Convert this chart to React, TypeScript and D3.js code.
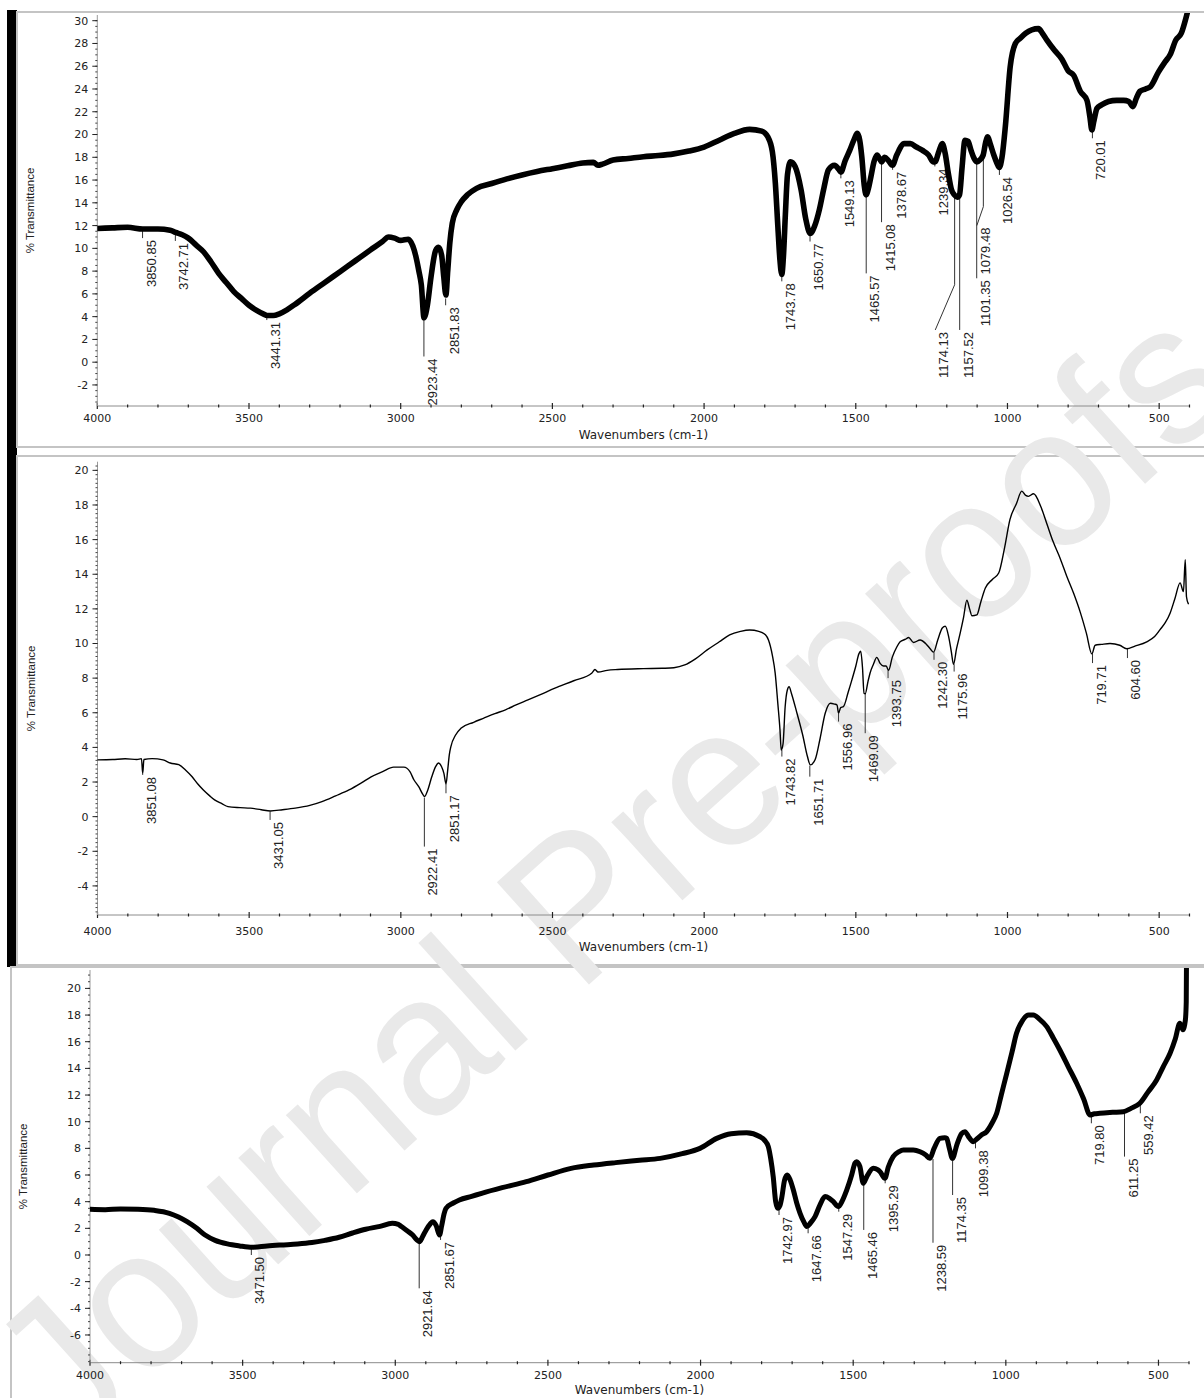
import { useEffect, useRef } from 'react';
import * as d3 from 'd3';

type Pt = [number, number];
type Peak = { text: string; wn: number; top: number; bottom: number; knee?: number; labelWn?: number };

// x axis labels (cm-1)
const xMajorTicks = [4000, 3500, 3000, 2500, 2000, 1500, 1000, 500];

const yTicksA = [-2, 0, 2, 4, 6, 8, 10, 12, 14, 16, 18, 20, 22, 24, 26, 28, 30];
const yTicksB = [-4, -2, 0, 2, 4, 6, 8, 10, 12, 14, 16, 18, 20];
const yTicksC = [-6, -4, -2, 0, 2, 4, 6, 8, 10, 12, 14, 16, 18, 20];

// spectrum 1 [wavenumber, %T]
const spectrumA: Pt[] = [
  [4000, 11.75], [3950, 11.8], [3900, 11.85], [3850, 11.7], [3800, 11.7], [3760, 11.6], [3742, 11.4],
  [3720, 11.2], [3700, 10.9], [3675, 10.3], [3650, 9.7], [3625, 8.8], [3600, 7.8], [3575, 7.0],
  [3550, 6.2], [3525, 5.6], [3500, 5.0], [3475, 4.55], [3450, 4.2], [3441, 4.1], [3420, 4.1],
  [3400, 4.25], [3375, 4.6], [3350, 5.05], [3300, 6.05], [3250, 7.0], [3200, 7.95], [3150, 8.9],
  [3100, 9.85], [3060, 10.6], [3040, 11.0], [3020, 10.9], [3000, 10.7], [2975, 10.8], [2960, 10.2],
  [2950, 9.3], [2940, 8.0], [2932, 6.8], [2923, 3.9], [2912, 5.0], [2900, 7.5], [2885, 9.8],
  [2875, 10.1], [2865, 9.4], [2858, 7.5], [2851, 5.9], [2845, 8.0], [2838, 10.5], [2830, 12.2],
  [2815, 13.4], [2800, 14.1], [2780, 14.7], [2750, 15.27], [2700, 15.7], [2650, 16.1], [2600, 16.45],
  [2550, 16.75], [2500, 17.0], [2450, 17.25], [2400, 17.5], [2365, 17.55], [2350, 17.3], [2335, 17.4],
  [2300, 17.76], [2250, 17.9], [2200, 18.05], [2150, 18.15], [2100, 18.3], [2050, 18.55], [2000, 18.9],
  [1950, 19.5], [1900, 20.1], [1850, 20.45], [1810, 20.3], [1790, 19.8], [1775, 18.5], [1765, 15.7],
  [1757, 12.0], [1750, 9.0], [1744, 7.7], [1738, 9.5], [1732, 13.0], [1725, 16.5], [1715, 17.6],
  [1700, 17.2], [1680, 15.1], [1665, 12.6], [1650, 11.3], [1635, 12.0], [1620, 13.4], [1605, 15.3],
  [1590, 16.9], [1570, 17.3], [1555, 16.9], [1549, 16.7], [1535, 17.7], [1520, 18.6], [1505, 19.6],
  [1495, 20.1], [1487, 19.5], [1480, 18.0], [1472, 15.5], [1466, 14.7], [1458, 15.3], [1450, 16.3],
  [1440, 17.6], [1430, 18.2], [1420, 17.8], [1415, 17.6], [1405, 18.0], [1392, 17.7], [1379, 17.3],
  [1365, 18.2], [1340, 19.2], [1320, 19.2], [1300, 18.9], [1280, 18.6], [1260, 18.2], [1245, 17.6],
  [1239, 17.6], [1225, 18.6], [1215, 19.2], [1205, 18.3], [1195, 16.6], [1185, 15.2], [1175, 14.7],
  [1165, 14.5], [1158, 14.7], [1150, 17.0], [1140, 19.5], [1130, 19.4], [1120, 18.6], [1110, 17.9],
  [1101, 17.6], [1090, 17.8], [1080, 18.2], [1072, 19.3], [1065, 19.8], [1057, 19.2], [1045, 18.2],
  [1035, 17.5], [1027, 17.1], [1018, 18.0], [1007, 20.7], [991, 25.95], [974, 28.0], [958, 28.45],
  [940, 28.9], [920, 29.2], [898, 29.3], [885, 28.9], [870, 28.3], [845, 27.4], [820, 26.6],
  [800, 25.6], [782, 25.2], [760, 23.8], [738, 23.0], [728, 21.5], [722, 20.4], [715, 21.2],
  [705, 22.3], [690, 22.6], [667, 22.9], [640, 23.0], [617, 23.0], [600, 22.9], [587, 22.45],
  [575, 23.2], [563, 23.8], [545, 24.0], [529, 24.2], [502, 25.5], [480, 26.4], [464, 27.0],
  [445, 28.3], [427, 28.9], [411, 30.3], [400, 31.5],
];

const peaksA: Peak[] = [
  { text: '3850.85', wn: 3850.85, top: 11.6, bottom: 10.9 },
  { text: '3742.71', wn: 3742.71, top: 11.3, bottom: 10.65 },
  { text: '3441.31', wn: 3441.31, top: 3.95, bottom: 3.7 },
  { text: '2923.44', wn: 2923.44, top: 3.9, bottom: 0.5 },
  { text: '2851.83', wn: 2851.83, top: 5.6, bottom: 5.0 },
  { text: '1743.78', wn: 1743.78, top: 7.6, bottom: 7.1 },
  { text: '1650.77', wn: 1650.77, top: 11.1, bottom: 10.6 },
  { text: '1549.13', wn: 1549.13, top: 16.6, bottom: 16.15 },
  { text: '1465.57', wn: 1465.57, top: 14.5, bottom: 7.8 },
  { text: '1415.08', wn: 1415.08, top: 17.5, bottom: 12.3 },
  { text: '1378.67', wn: 1378.67, top: 17.2, bottom: 16.9 },
  { text: '1239.34', wn: 1239.34, top: 17.5, bottom: 17.2 },
  { text: '1174.13', wn: 1174.13, top: 14.6, knee: 6.8, labelWn: 1238, bottom: 2.83 },
  { text: '1157.52', wn: 1157.52, top: 14.5, bottom: 2.83 },
  { text: '1101.35', wn: 1101.35, top: 17.5, bottom: 7.37 },
  { text: '1079.48', wn: 1079.48, top: 18.0, knee: 13.66, labelWn: 1101, bottom: 12.0 },
  { text: '1026.54', wn: 1026.54, top: 16.9, bottom: 16.45 },
  { text: '720.01', wn: 720.01, top: 20.3, bottom: 19.67 },
];

// spectrum 2
const spectrumB: Pt[] = [
  [4000, 3.28], [3950, 3.3], [3909, 3.34], [3870, 3.3], [3855, 3.35], [3851, 2.5], [3847, 3.3],
  [3820, 3.35], [3784, 3.28], [3760, 3.1], [3732, 3.0], [3710, 2.7], [3688, 2.3], [3670, 1.9],
  [3651, 1.54], [3630, 1.2], [3614, 0.97], [3590, 0.75], [3570, 0.58], [3530, 0.52], [3496, 0.49],
  [3460, 0.4], [3430, 0.33], [3390, 0.4], [3348, 0.49], [3300, 0.65], [3260, 0.87], [3215, 1.2],
  [3171, 1.54], [3130, 1.95], [3098, 2.3], [3060, 2.6], [3024, 2.86], [2990, 2.86], [2970, 2.6],
  [2957, 2.13], [2940, 1.7], [2928, 1.3], [2922, 1.16], [2912, 1.5], [2898, 2.3], [2885, 2.9],
  [2876, 3.1], [2866, 2.9], [2858, 2.5], [2851, 1.9], [2846, 2.6], [2840, 3.6], [2835, 4.05],
  [2820, 4.7], [2802, 5.1], [2760, 5.45], [2728, 5.68], [2690, 5.95], [2655, 6.17], [2620, 6.45],
  [2581, 6.74], [2540, 7.05], [2492, 7.42], [2430, 7.85], [2370, 8.3], [2360, 8.5], [2350, 8.35],
  [2320, 8.45], [2285, 8.5], [2200, 8.55], [2138, 8.57], [2100, 8.6], [2064, 8.76], [2030, 9.1],
  [1990, 9.63], [1950, 10.1], [1916, 10.5], [1880, 10.7], [1850, 10.78], [1820, 10.7], [1798, 10.5],
  [1788, 10.2], [1775, 9.3], [1766, 8.3], [1757, 6.5], [1750, 5.0], [1746, 3.85], [1740, 4.2],
  [1733, 6.35], [1726, 7.3], [1720, 7.5], [1712, 7.1], [1694, 5.97], [1675, 4.7], [1660, 3.5],
  [1650, 2.99], [1634, 3.3], [1618, 4.5], [1601, 5.97], [1584, 6.55], [1570, 6.5], [1562, 6.45],
  [1557, 5.97], [1550, 6.3], [1541, 6.35], [1525, 7.2], [1513, 7.9], [1500, 8.7], [1490, 9.4],
  [1484, 9.55], [1478, 8.6], [1473, 7.12], [1469, 7.1], [1460, 7.8], [1453, 8.3], [1442, 8.8],
  [1431, 9.2], [1420, 8.85], [1409, 8.7], [1400, 8.7], [1392, 8.45], [1380, 9.2], [1365, 9.8],
  [1354, 10.1], [1336, 10.25], [1326, 10.35], [1310, 10.06], [1288, 10.2], [1270, 10.0], [1255, 9.7],
  [1244, 9.5], [1230, 10.2], [1215, 10.9], [1205, 11.0], [1194, 10.4], [1185, 9.5], [1178, 8.8],
  [1168, 9.7], [1156, 10.6], [1145, 11.5], [1134, 12.5], [1125, 12.0], [1117, 11.6], [1101, 11.65],
  [1088, 12.4], [1073, 13.2], [1050, 13.7], [1029, 14.07], [1010, 15.5], [992, 17.15], [970, 18.1],
  [953, 18.8], [940, 18.55], [931, 18.5], [914, 18.65], [890, 17.9], [870, 16.9], [850, 15.9],
  [826, 14.9], [805, 13.9], [782, 12.9], [760, 11.8], [740, 10.6], [722, 9.4], [711, 9.9],
  [690, 9.95], [662, 10.0], [630, 9.9], [607, 9.7], [580, 9.85], [541, 10.1], [515, 10.4],
  [497, 10.8], [480, 11.2], [464, 11.75], [448, 12.6], [431, 13.5], [420, 13.0], [414, 14.84],
  [410, 12.7], [404, 12.3],
];

const peaksB: Peak[] = [
  { text: '3851.08', wn: 3851.08, top: 2.5, bottom: 2.41 },
  { text: '3431.05', wn: 3431.05, top: 0.3, bottom: -0.19 },
  { text: '2922.41', wn: 2922.41, top: 1.1, bottom: -1.73 },
  { text: '2851.17', wn: 2851.17, top: 1.9, bottom: 1.35 },
  { text: '1743.82', wn: 1743.82, top: 3.85, bottom: 3.47 },
  { text: '1651.71', wn: 1651.71, top: 2.95, bottom: 2.31 },
  { text: '1556.96', wn: 1556.96, top: 5.95, bottom: 5.49 },
  { text: '1469.09', wn: 1469.09, top: 7.1, bottom: 4.82 },
  { text: '1393.75', wn: 1393.75, top: 8.45, bottom: 8.0 },
  { text: '1242.30', wn: 1242.3, top: 9.5, bottom: 9.06 },
  { text: '1175.96', wn: 1175.96, top: 8.8, bottom: 8.38 },
  { text: '719.71', wn: 719.71, top: 9.4, bottom: 8.87 },
  { text: '604.60', wn: 604.6, top: 9.7, bottom: 9.16 },
];

// spectrum 3
const spectrumC: Pt[] = [
  [4000, 3.43], [3950, 3.4], [3900, 3.45], [3843, 3.43], [3790, 3.35], [3740, 3.13], [3710, 2.85],
  [3682, 2.5], [3650, 2.0], [3623, 1.5], [3590, 1.1], [3550, 0.83], [3510, 0.68], [3469, 0.58],
  [3420, 0.68], [3374, 0.75], [3320, 0.82], [3273, 0.93], [3230, 1.1], [3184, 1.33], [3140, 1.65],
  [3097, 1.93], [3050, 2.15], [3010, 2.38], [2990, 2.3], [2980, 2.13], [2960, 1.8], [2943, 1.5],
  [2930, 1.15], [2921, 1.0], [2910, 1.4], [2899, 1.88], [2885, 2.35], [2877, 2.5], [2866, 2.2],
  [2855, 1.5], [2848, 2.2], [2840, 3.1], [2834, 3.5], [2810, 3.9], [2790, 4.13], [2750, 4.4],
  [2717, 4.63], [2650, 5.05], [2571, 5.5], [2500, 6.0], [2424, 6.5], [2350, 6.75], [2278, 6.93],
  [2200, 7.1], [2132, 7.25], [2060, 7.6], [2002, 8.0], [1947, 8.75], [1900, 9.1], [1849, 9.17],
  [1805, 8.87], [1790, 8.6], [1778, 8.13], [1770, 7.2], [1762, 5.88], [1754, 4.0], [1747, 3.5],
  [1740, 3.7], [1734, 4.3], [1725, 5.6], [1716, 6.0], [1706, 5.6], [1696, 4.88], [1685, 3.9],
  [1674, 3.13], [1662, 2.5], [1652, 2.13], [1640, 2.4], [1625, 2.88], [1608, 3.8], [1592, 4.38],
  [1578, 4.25], [1565, 4.0], [1549, 3.63], [1535, 4.1], [1521, 4.88], [1505, 6.0], [1494, 6.9],
  [1489, 7.0], [1478, 6.63], [1467, 5.38], [1455, 5.9], [1434, 6.5], [1420, 6.4], [1412, 6.25],
  [1396, 5.75], [1385, 6.6], [1369, 7.38], [1350, 7.75], [1336, 7.88], [1303, 7.88], [1281, 7.75],
  [1262, 7.5], [1249, 7.25], [1235, 8.0], [1216, 8.75], [1200, 8.8], [1194, 8.75], [1185, 8.0],
  [1175, 7.25], [1160, 8.3], [1145, 9.1], [1134, 9.25], [1120, 8.8], [1107, 8.5], [1095, 8.7],
  [1080, 9.0], [1063, 9.25], [1045, 9.9], [1030, 10.63], [1015, 12.0], [997, 13.63], [980, 15.2],
  [965, 16.63], [945, 17.6], [925, 18.0], [910, 18.0], [890, 17.7], [866, 17.13], [845, 16.3],
  [823, 15.38], [795, 14.1], [768, 12.88], [745, 11.7], [724, 10.5], [710, 10.6], [692, 10.63],
  [650, 10.7], [615, 10.75], [590, 11.0], [561, 11.38], [535, 12.2], [506, 13.13], [485, 14.1],
  [462, 15.13], [445, 16.2], [430, 17.38], [420, 16.9], [412, 17.6], [409, 19.0], [408, 23],
];

const peaksC: Peak[] = [
  { text: '3471.50', wn: 3471.5, top: 0.55, bottom: 0.0 },
  { text: '2921.64', wn: 2921.64, top: 1.0, bottom: -2.5 },
  { text: '2851.67', wn: 2851.67, top: 1.5, bottom: 1.13 },
  { text: '1742.97', wn: 1742.97, top: 3.5, bottom: 3.0 },
  { text: '1647.66', wn: 1647.66, top: 2.05, bottom: 1.63 },
  { text: '1547.29', wn: 1547.29, top: 3.7, bottom: 3.25 },
  { text: '1465.46', wn: 1465.46, top: 5.4, bottom: 1.88 },
  { text: '1395.29', wn: 1395.29, top: 5.75, bottom: 5.38 },
  { text: '1238.59', wn: 1238.59, top: 7.2, bottom: 0.92 },
  { text: '1174.35', wn: 1174.35, top: 7.2, bottom: 4.5 },
  { text: '1099.38', wn: 1099.38, top: 8.5, bottom: 8.0 },
  { text: '719.80', wn: 719.8, top: 10.5, bottom: 9.88 },
  { text: '611.25', wn: 611.25, top: 10.75, bottom: 7.38 },
  { text: '559.42', wn: 559.42, top: 11.35, bottom: 10.63 },
];

const panels = [
  { data: spectrumA, peaks: peaksA, yTicks: yTicksA, yDomain: [-3.85, 30.5], minorStep: 0.5,
    x0: 97.3, x1: 1189.5, top: 15, bottom: 406, frameLeft: 17, frameTop: 12, frameBottom: 447,
    tickDy: 16, titleDy: 33, stroke: 5.6 },
  { data: spectrumB, peaks: peaksB, yTicks: yTicksB, yDomain: [-5.68, 20.5], minorStep: 0.25,
    x0: 97.5, x1: 1189.5, top: 461.7, bottom: 915, frameLeft: 17, frameTop: 456, frameBottom: 965,
    tickDy: 20, titleDy: 36, stroke: 1.4 },
  { data: spectrumC, peaks: peaksC, yTicks: yTicksC, yDomain: [-8.08, 21.38], minorStep: 0.5,
    x0: 90, x1: 1189, top: 970, bottom: 1362.7, frameLeft: 11, frameTop: 967, frameBottom: 1410,
    tickDy: 16, titleDy: 31, stroke: 5 },
];

const W = 1204;
const H = 1398;
const axisFont = '"DejaVu Sans", Verdana, sans-serif';
const narrowFont = '"Liberation Sans Narrow", "Arial Narrow", "Liberation Sans", sans-serif';

const App = () => {
  const svgRef = useRef<SVGSVGElement>(null);

  useEffect(() => {
    const svg = d3.select(svgRef.current);
    svg.selectAll('*').remove();

    svg.append('rect').attr('width', W).attr('height', H).attr('fill', '#fff');

    // left black bar
    svg.append('rect').attr('x', 7).attr('y', 10).attr('width', 10).attr('height', 957).attr('fill', '#000');

    // panel frames
    panels.forEach(p => {
      svg.append('rect')
        .attr('x', p.frameLeft).attr('y', p.frameTop)
        .attr('width', W + 20 - p.frameLeft).attr('height', p.frameBottom - p.frameTop)
        .attr('fill', '#fff').attr('stroke', '#c4c4c4').attr('stroke-width', 2);
    });

    // watermark
    svg.append('text')
      .attr('transform', 'translate(610,872) rotate(-42)')
      .attr('text-anchor', 'middle')
      .attr('dominant-baseline', 'central')
      .attr('textLength', 1580)
      .attr('lengthAdjust', 'spacingAndGlyphs')
      .style('font-family', '"Liberation Sans", Arial, sans-serif')
      .style('font-size', '200px')
      .attr('fill', '#e9e9e9')
      .text('Journal Pre-proofs');

    panels.forEach((p, i) => {
      const x = d3.scaleLinear().domain([4000, 400]).range([p.x0, p.x1]);
      const y = d3.scaleLinear().domain(p.yDomain).range([p.bottom, p.top]);
      const g = svg.append('g');

      // x axis
      g.append('line').attr('x1', p.x0).attr('x2', p.x1).attr('y1', p.bottom).attr('y2', p.bottom)
        .attr('stroke', '#8c8c8c').attr('stroke-width', 1);
      d3.range(4000, 399, -100).forEach(v => {
        const major = v % 500 === 0;
        g.append('line').attr('x1', x(v)).attr('x2', x(v))
          .attr('y1', p.bottom - (major ? 3 : 1.5)).attr('y2', p.bottom + (major ? 3 : 1.5))
          .attr('stroke', '#222').attr('stroke-width', 1.2);
      });
      xMajorTicks.forEach(v => {
        g.append('text').attr('x', x(v)).attr('y', p.bottom + p.tickDy)
          .attr('text-anchor', 'middle').style('font-family', axisFont).style('font-size', '11px')
          .attr('fill', '#222').text(v);
      });
      g.append('text').attr('x', (p.x0 + p.x1) / 2).attr('y', p.bottom + p.titleDy)
        .attr('text-anchor', 'middle').style('font-family', axisFont).style('font-size', '12px')
        .attr('fill', '#222').text('Wavenumbers (cm-1)');

      // y axis
      g.append('line').attr('x1', p.x0).attr('x2', p.x0).attr('y1', p.top).attr('y2', p.bottom)
        .attr('stroke', '#9a9a9a').attr('stroke-width', 1);
      const [lo, hi] = p.yDomain;
      d3.range(Math.ceil(lo / p.minorStep) * p.minorStep, hi, p.minorStep).forEach(v => {
        g.append('line').attr('x1', p.x0 - 2).attr('x2', p.x0).attr('y1', y(v)).attr('y2', y(v))
          .attr('stroke', '#444').attr('stroke-width', 1);
      });
      p.yTicks.forEach(v => {
        g.append('line').attr('x1', p.x0 - 5).attr('x2', p.x0).attr('y1', y(v)).attr('y2', y(v))
          .attr('stroke', '#222').attr('stroke-width', 1);
        g.append('text').attr('x', p.x0 - 9).attr('y', y(v)).attr('dy', '0.36em')
          .attr('text-anchor', 'end').style('font-family', axisFont).style('font-size', '11px')
          .attr('fill', '#222').text(v);
      });
      g.append('text')
        .attr('transform', `translate(${p.x0 - 67},${(p.top + p.bottom) / 2}) rotate(-90)`)
        .attr('text-anchor', 'middle').attr('dy', '0.35em')
        .style('font-family', narrowFont).style('font-size', '11.5px')
        .attr('fill', '#222').text('% Transmittance');

      // peak annotations
      p.peaks.forEach(pk => {
        const lx = x(pk.labelWn ?? pk.wn);
        const pts: Pt[] = [[x(pk.wn), y(pk.top)]];
        if (pk.knee !== undefined) pts.push([x(pk.wn), y(pk.knee)]);
        pts.push([lx, y(pk.bottom)]);
        g.append('path').attr('d', d3.line()(pts)).attr('fill', 'none')
          .attr('stroke', '#333').attr('stroke-width', 1);
        g.append('text')
          .attr('transform', `translate(${lx + 13},${y(pk.bottom) + 2}) rotate(-90)`)
          .attr('text-anchor', 'end')
          .style('font-family', narrowFont).style('font-size', '13px')
          .attr('fill', '#222').text(pk.text);
      });

      // spectrum
      const clipId = `clip-${i}`;
      svg.append('clipPath').attr('id', clipId).append('rect')
        .attr('x', p.x0).attr('y', p.frameTop + 1).attr('width', p.x1 - p.x0 + 2).attr('height', p.bottom - p.frameTop - 1);
      const line = d3.line<Pt>().x(d => x(d[0])).y(d => y(d[1])).curve(d3.curveMonotoneX);
      g.append('path').datum(p.data).attr('d', line).attr('clip-path', `url(#${clipId})`)
        .attr('fill', 'none').attr('stroke', '#000').attr('stroke-width', p.stroke)
        .attr('stroke-linejoin', 'round').attr('stroke-linecap', 'round');
    });
  }, []);

  return (
    <svg ref={svgRef} width={W} height={H}
      style={{ position: 'absolute', left: 0, top: 0, display: 'block' }} />
  );
};

export default App;
